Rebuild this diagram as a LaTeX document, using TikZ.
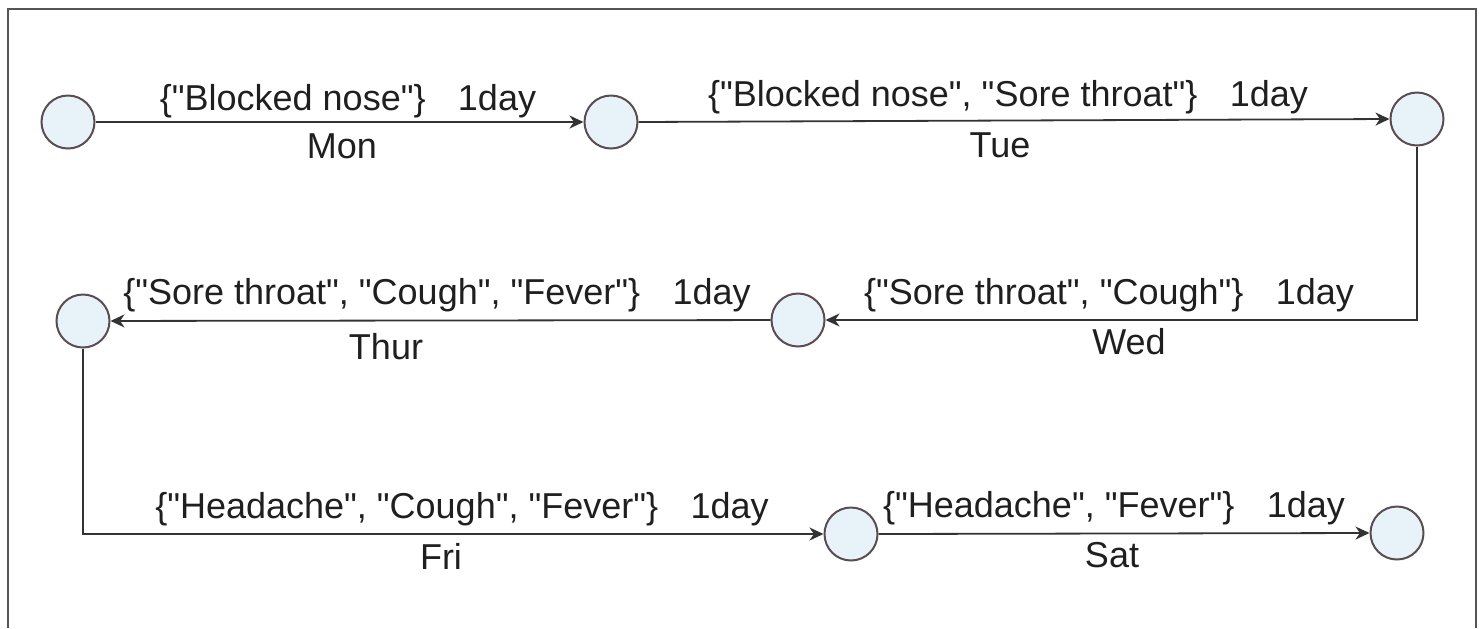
\documentclass[tikz,border=0pt]{standalone}
\usepackage{fontspec}
\setmainfont{Liberation Sans}
\usetikzlibrary{arrows.meta}
\definecolor{statefill}{HTML}{E8F3F9}
\definecolor{statedraw}{HTML}{5A4C50}
\definecolor{edgecol}{HTML}{333333}
\definecolor{framecol}{HTML}{555555}
% straight double quotes around a symptom name
\newcommand{\symq}[1]{\textquotedbl#1\textquotedbl}
\begin{document}
\begin{tikzpicture}[x=0.5pt,y=-0.5pt,
  state/.style={circle,draw=statedraw,fill=statefill,line width=1pt,
    minimum size=26.5pt,inner sep=0pt},
  trans/.style={draw=edgecol,line width=0.9pt,
    -{Stealth[length=7pt,width=6.5pt,inset=2.2pt]}},
  lbl/.style={font=\fontsize{18}{20}\selectfont,text=black!88,anchor=base,
    inner sep=0pt}]
  \useasboundingbox (0,0) rectangle (1479,628);
  % outer frame, open at the bottom
  \draw[framecol,line width=1pt] (8,628) -- (8,9) -- (1476,9) -- (1476,628);

  % states, one per day boundary
  \node[state] (s1) at (68,122) {};
  \node[state] (s2) at (611,122) {};
  \node[state] (s3) at (1417,119) {};
  \node[state] (s4) at (798,320) {};
  \node[state] (s5) at (83,321) {};
  \node[state] (s6) at (851,534) {};
  \node[state] (s7) at (1397,533) {};

  % transitions
  \draw[trans] (s1) -- (s2);
  \draw[trans] (s2.east) -- (s3.west);
  \draw[trans] (s3.south) |- (s4.east);
  \draw[trans] (s4) -- (s5);
  \draw[trans] (s5.south) |- (s6.west);
  \draw[trans] (s6.east) -- (s7.west);

  % symptom sets with durations
  \node[lbl] (l1) at (348,110) {\{\symq{Blocked nose}\}\hspace{0.9em}1day};
  \node[lbl] (l2) at (1008,106) {\{\symq{Blocked nose}, \symq{Sore throat}\}\hspace{0.9em}1day};
  \node[lbl] (l3) at (1109,304) {\{\symq{Sore throat}, \symq{Cough}\}\hspace{0.9em}1day};
  \node[lbl] (l4) at (437,304) {\{\symq{Sore throat}, \symq{Cough}, \symq{Fever}\}\hspace{0.9em}1day};
  \node[lbl] (l5) at (462,518) {\{\symq{Headache}, \symq{Cough}, \symq{Fever}\}\hspace{0.9em}1day};
  \node[lbl] (l6) at (1114,517) {\{\symq{Headache}, \symq{Fever}\}\hspace{0.9em}1day};

  % day names
  \node[lbl] (d1) at (342,158) {Mon};
  \node[lbl] (d2) at (1000,157) {Tue};
  \node[lbl] (d3) at (1129,354) {Wed};
  \node[lbl] (d4) at (386,359) {Thur};
  \node[lbl] (d5) at (441,569) {Fri};
  \node[lbl] (d6) at (1112,567) {Sat};
\end{tikzpicture}
\end{document}
